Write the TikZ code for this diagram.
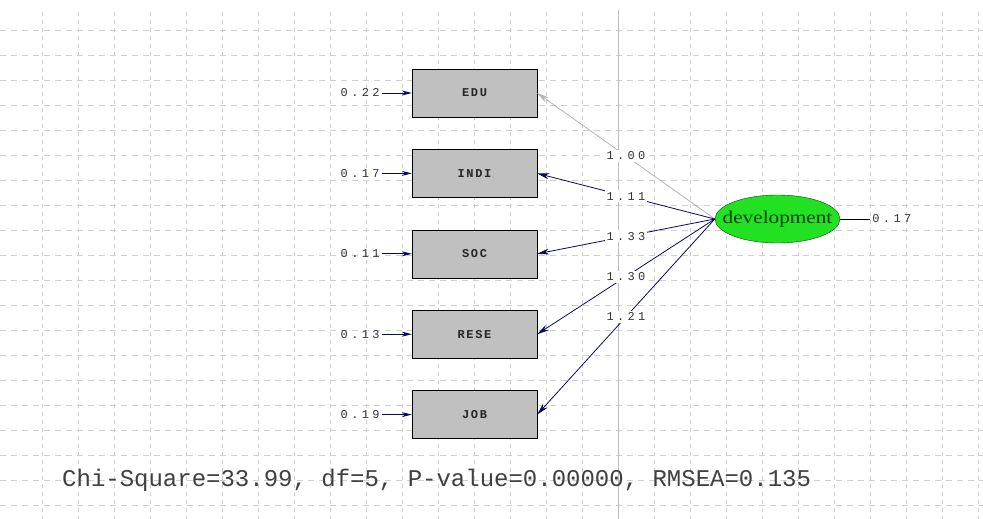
\documentclass[tikz,border=0pt]{standalone}
\usepackage{fontspec}
\usepackage{tikz}
\usetikzlibrary{positioning}
\usetikzlibrary{arrows.meta}
\usetikzlibrary{shapes.geometric}
\newfontfamily\lisrelsmall[LetterSpace=28]{Liberation Mono}
\newfontfamily\lisrelbox[LetterSpace=14]{Liberation Mono}
\newfontfamily\lisrelfit{Liberation Mono}
\newfontfamily\lisrelserif[FakeStretch=1.18]{Liberation Serif}
\definecolor{mygrid}{HTML}{CFCFCF}
\definecolor{myaxis}{HTML}{BBBBBB}
\definecolor{mybox}{HTML}{C0C0C0}
\definecolor{mygreen}{HTML}{22E022}
\definecolor{mynavy}{HTML}{0A0A5A}
\definecolor{myfixed}{HTML}{B4B4B4}
\tikzset{
	obsvar/.style={draw=black, fill=mybox, minimum width=125pt, minimum height=48pt, inner sep=0pt, text=black!85, font=\lisrelbox\fontsize{12}{12}\selectfont\bfseries},
	latent/.style={ellipse, draw=black!70!green, fill=mygreen, minimum width=125pt, minimum height=48pt, inner sep=0pt},
	devtext/.style={inner sep=0pt, text=black!75!green, font=\lisrelserif\fontsize{18}{18}\selectfont},
	errlabel/.style={inner sep=2pt, text=black!80, font=\lisrelsmall\fontsize{12}{12}\selectfont},
	loadlabel/.style={fill=white, inner sep=2pt, text=black!80, font=\lisrelsmall\fontsize{12}{12}\selectfont},
	errarrow/.style={draw=mynavy, line width=0.9pt, -{Stealth[length=10pt,width=5pt]}},
	loadarrow/.style={draw=mynavy, line width=0.8pt, -{Stealth[length=12pt,width=6pt]}},
	fixedarrow/.style={draw=myfixed, line width=0.8pt, -{Stealth[length=12pt,width=6pt]}}
}

\begin{document}
\begin{tikzpicture}[x=1pt, y=-1pt]
	%% The page is 983 by 519, the same as the screen shot of the path diagram
	\useasboundingbox (0,0) rectangle (983,519);
	\fill[white] (0,0) rectangle (983,519);
	%% Dashed grid in the background, and the one solid line in the middle
	\begin{scope}[draw=mygrid, line width=0.8pt]
		\foreach \y in {0,...,19}
			\draw[dash pattern=on 6pt off 5pt] (0,30+25*\y) -- (983,30+25*\y);
		\foreach \x in {0,...,26}
			\draw[dash pattern=on 4pt off 4pt] (42+36*\x,12) -- (42+36*\x,519);
		\draw[myaxis, line width=1pt] (618,10) -- (618,519);
	\end{scope}
	%% The five observed variables, one under the other
	\node[obsvar] (edu) at (474.5,93) {EDU};
	\node[obsvar, below=32pt of edu] (indi) {INDI};
	\node[obsvar, below=32pt of indi] (soc) {SOC};
	\node[obsvar, below=32pt of soc] (rese) {RESE};
	\node[obsvar, below=32pt of rese] (job) {JOB};
	%% Error variances on the left of the boxes
	\node[errlabel, left=30pt of edu] (eedu) {0.22};
	\node[errlabel, left=30pt of indi] (eindi) {0.17};
	\node[errlabel, left=30pt of soc] (esoc) {0.11};
	\node[errlabel, left=30pt of rese] (erese) {0.13};
	\node[errlabel, left=30pt of job] (ejob) {0.19};
	\draw[errarrow] (eedu) -- (edu);
	\draw[errarrow] (eindi) -- (indi);
	\draw[errarrow] (esoc) -- (soc);
	\draw[errarrow] (erese) -- (rese);
	\draw[errarrow] (ejob) -- (job);
	%% The latent variable and its own error variance
	\node[latent, label={[devtext]center:development}] (dev) at (777.5,219) {};
	\node[errlabel, right=30pt of dev] (edev) {0.17};
	\draw[black, line width=0.7pt] (dev) -- (edev);
	%% Loadings, the first one is fixed at 1 so it is gray
	\draw[fixedarrow] (dev.west) -- node[loadlabel] {1.00} (edu.east);
	\draw[loadarrow] (dev.west) -- node[loadlabel] {1.11} (indi.east);
	\draw[loadarrow] (dev.west) -- node[loadlabel] {1.33} (soc.east);
	\draw[loadarrow] (dev.west) -- node[loadlabel] {1.30} (rese.east);
	\draw[loadarrow] (dev.west) -- node[loadlabel] {1.21} (job.east);
	%% Goodness of fit line at the bottom
	\node[anchor=west, inner sep=0pt, text=black!75, font=\lisrelfit\fontsize{24}{24}\selectfont] (fit) at (62,480) {Chi-Square=33.99, df=5, P-value=0.00000, RMSEA=0.135};
\end{tikzpicture}
\end{document}
